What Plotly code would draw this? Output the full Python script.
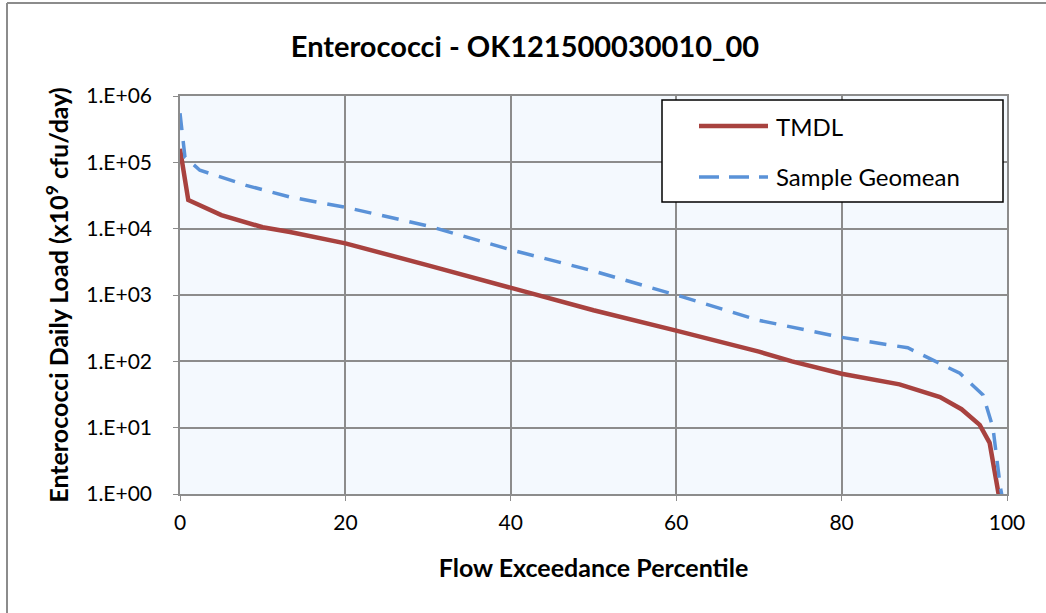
import plotly.graph_objects as go

tmdl_x = [0, 1, 5, 10, 13.3, 20, 30, 40, 43, 50, 60, 70, 74, 80, 87, 91.9, 94.5, 96.7, 97.9, 98.9, 99.2]
tmdl_y = [1.6e5, 2.7e4, 1.6e4, 1.05e4, 8.9e3, 6.0e3, 2.8e3, 1.3e3, 1.0e3, 590, 290, 140, 100, 65, 45, 29, 19, 11, 5.9, 1.0, 0.7]

geo_x = [0, 0.6, 2.4, 8, 13.3, 20, 30, 40, 50, 60, 70, 80, 88, 91, 94.3, 97.1, 98.3, 99.2, 99.5]
geo_y = [5.5e5, 1.2e5, 7.6e4, 4.5e4, 3.0e4, 2.1e4, 1.1e4, 4.8e3, 2.3e3, 1.0e3, 415, 230, 160, 105, 66, 31, 10, 1.26, 0.8]

xtick_vals = [0, 20, 40, 60, 80, 100]
ytick_vals = [1, 10, 100, 1e3, 1e4, 1e5, 1e6]
ytick_text = ["1.E+00", "1.E+01", "1.E+02", "1.E+03", "1.E+04", "1.E+05", "1.E+06"]

series_names = ["TMDL", "Sample Geomean"]
RED = "#A8423F"
BLUE = "#5A92D8"
DASH = "17px,11px"
FONT = "Lato"

fig = go.Figure()
fig.add_trace(go.Scatter(x=tmdl_x, y=tmdl_y, mode="lines", name=series_names[0],
                         line=dict(color=RED, width=4.5)))
fig.add_trace(go.Scatter(x=geo_x, y=geo_y, mode="lines", name=series_names[1],
                         line=dict(color=BLUE, width=3.5, dash=DASH)))

W, H = 1046, 613
L, T = 180, 96
pw, ph = 827, 398
R, B = W - L - pw, H - T - ph


def fx(px):
    return (px - L) / pw


def fy(py):
    return 1 - (py - T) / ph


GRID = "#8C8C8C"
fig.update_layout(
    width=W, height=H,
    margin=dict(l=L, r=R, t=T, b=B),
    paper_bgcolor="white",
    plot_bgcolor="#F4F9FE",
    font=dict(family=FONT, size=21, color="black"),
    title=dict(text="<b>Enterococci - OK121500030010_00</b>", x=fx(525), xref="paper",
               xanchor="center", y=1 - 47 / H, yanchor="middle",
               font=dict(size=29, family=FONT)),
    showlegend=False,
    xaxis=dict(range=[0, 100], tickvals=xtick_vals,
               showgrid=True, gridcolor=GRID, gridwidth=1.5,
               showline=True, linecolor=GRID, linewidth=1.5, mirror=True,
               ticks="outside", ticklen=5, tickcolor=GRID, ticklabelstandoff=4,
               tickfont=dict(size=21), zeroline=False,
               title=dict(text="<b>Flow Exceedance Percentile</b>", font=dict(size=25), standoff=27)),
    yaxis=dict(type="log", range=[0, 6], tickvals=ytick_vals, ticktext=ytick_text,
               showgrid=True, gridcolor=GRID, gridwidth=1.5,
               showline=True, linecolor=GRID, linewidth=1.5, mirror=True,
               ticks="outside", ticklen=5, tickcolor=GRID, ticklabelstandoff=17,
               tickfont=dict(size=21), zeroline=False,
               title=dict(text="<b>Enterococci Daily Load (x10<sup>9</sup> cfu/day)</b>",
                          font=dict(size=25), standoff=10)),
)

# outer chart frame (top and left edges)
fig.add_shape(type="line", xref="paper", yref="paper", x0=fx(7), x1=fx(1046), y0=fy(3), y1=fy(3),
              line=dict(color=GRID, width=2))
fig.add_shape(type="line", xref="paper", yref="paper", x0=fx(7), x1=fx(7), y0=fy(3), y1=fy(613),
              line=dict(color=GRID, width=2))

# legend box
fig.add_shape(type="rect", xref="paper", yref="paper", x0=fx(662), x1=fx(1003), y0=fy(202), y1=fy(100),
              line=dict(color="black", width=1.5), fillcolor="white", layer="above")
fig.add_shape(type="line", xref="paper", yref="paper", x0=fx(699), x1=fx(768), y0=fy(126), y1=fy(126),
              line=dict(color=RED, width=4.5), layer="above")
fig.add_shape(type="line", xref="paper", yref="paper", x0=fx(699), x1=fx(768), y0=fy(177), y1=fy(177),
              line=dict(color=BLUE, width=3.5, dash="20px,10px"), layer="above")
for name, ypix in zip(series_names, [126, 177]):
    fig.add_annotation(text=name, xref="paper", yref="paper", x=fx(774), y=fy(ypix),
                       xanchor="left", yanchor="middle", showarrow=False,
                       font=dict(size=24, family=FONT, color="black"))

fig.write_html("out.html", config={"displayModeBar": False},
               post_script="document.body.style.margin='0px';")
